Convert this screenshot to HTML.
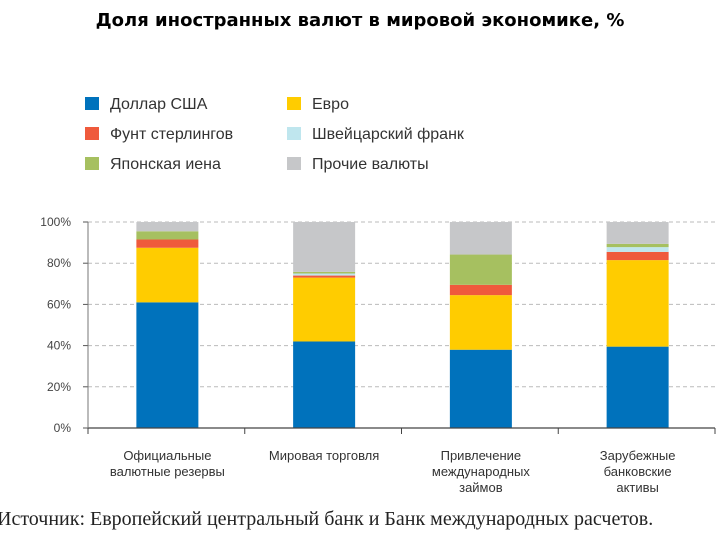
<!DOCTYPE html>
<html><head><meta charset="utf-8"><style>
body{margin:0;width:720px;height:540px;background:#fff;overflow:hidden;position:relative;font-family:"Liberation Sans","DejaVu Sans",sans-serif}
.t{position:absolute}
</style></head><body>
<div class="t" style="left:0;width:720px;top:10px;text-align:center;font-weight:bold;font-size:18px;color:#000;font-family:'DejaVu Sans','Liberation Sans',sans-serif">Доля иностранных валют в мировой экономике, %</div>
<svg id="c" width="720" height="540" style="position:absolute;left:0;top:0"></svg>
<div class="t" style="left:-3px;top:508px;font-family:'Liberation Serif','DejaVu Serif',serif;font-size:20px;color:#222;white-space:nowrap">Источник: Европейский центральный банк и Банк международных расчетов.</div>
<script>
const categories=[["Официальные","валютные резервы"],["Мировая торговля"],["Привлечение","международных","займов"],["Зарубежные","банковские","активы"]];
const usd=[61,42,38,39.5];
const eur=[26.5,31,26.5,42];
const gbp=[4,1,5,4];
const chf=[0,1,0,2.3];
const jpy=[4,0.8,14.7,1.6];
const other=[4.5,24.2,15.8,10.6];
const seriesNames=["Доллар США","Евро","Фунт стерлингов","Швейцарский франк","Японская иена","Прочие валюты"];
const yTicks=[0,20,40,60,80,100];
const series=[usd,eur,gbp,chf,jpy,other];
const colors=["#0072bc","#ffcc00","#ef5a3c","#bfe6ee","#a6c060","#c6c7c9"];
const svg=document.getElementById('c');const NS="http://www.w3.org/2000/svg";
function mk(t,a,p){const e=document.createElementNS(NS,t);for(const k in a)e.setAttribute(k,a[k]);(p||svg).appendChild(e);return e;}
const x0=88,x1=715,y0=428,y100=222;
const ys=v=>y0-(v/100)*(y0-y100);
const band=(x1-x0)/categories.length;
const xc=i=>x0+band*(i+0.5)+1;
const bw=62;
seriesNames.forEach((n,i)=>{const col=i%2,row=Math.floor(i/2);
const lx=col?287:85,ly=97+row*30;
const r=mk('rect',{x:lx,y:ly,width:14,height:13,fill:colors[i]});


const t=mk('text',{x:lx+25,y:ly+12,'font-size':16,fill:'#333','font-family':'Liberation Sans, sans-serif'});t.textContent=n;

});
yTicks.forEach(v=>{const y=ys(v);
if(v>0){const g=mk('line',{x1:x0,x2:x1,y1:y,y2:y,stroke:'#bbb','stroke-dasharray':'4,3'});

}
mk('line',{x1:x0-5,x2:x0,y1:y,y2:y,stroke:'#555'});
const t=mk('text',{x:71,y:y+4,'font-size':12,fill:'#444','text-anchor':'end'});t.textContent=v+'%';

});
categories.forEach((c,i)=>{let acc=0;
series.forEach((s,k)=>{const v=s[i];if(v<=0){return;}
const r=mk('rect',{x:xc(i)-bw/2,y:ys(acc+v),width:bw,height:ys(acc)-ys(acc+v),fill:colors[k]});

acc+=v;});
c.forEach((l,j)=>{const t=mk('text',{x:xc(i),y:460+j*16,'font-size':13,fill:'#333','text-anchor':'middle'});t.textContent=l;

});
});
const ax=mk('line',{x1:x0,x2:x1,y1:y0,y2:y0,stroke:'#444','stroke-width':1.3});


const ay=mk('line',{x1:x0,x2:x0,y1:y100,y2:y0,stroke:'#777'});


for(let i=0;i<=categories.length;i++){const x=Math.min(x0+band*i,x1);mk('line',{x1:x,x2:x,y1:y0,y2:y0+6,stroke:'#444'});}
</script>
</body></html>
